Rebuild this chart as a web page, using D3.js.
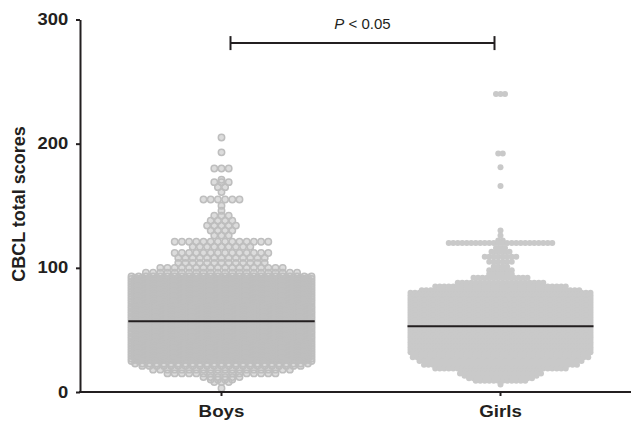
<!DOCTYPE html>
<html>
<head>
<meta charset="utf-8">
<script src="https://cdn.jsdelivr.net/npm/d3@7"></script>
<style>
  body { margin: 0; background: #fff; }
  text { font-family: "Liberation Sans", Arial, sans-serif; fill: #231f20; }
</style>
</head>
<body>
<div id="chart"></div>
<script>
// categories and summary values
const categories = ['Boys', 'Girls'];
const medians = [57, 53];
const yTicks = [0, 100, 200, 300];

// each score row of the swarm and how many dots sit in it
const boysScores = [205, 193, 180, 171, 169, 165, 161, 155, 150, 146, 142, 138, 134, 130, 126,
    121, 117, 112, 108, 104, 100, 96, 93,
    92, 91, 90, 89, 88, 87, 86, 85, 84, 83, 82, 81, 80, 79, 78, 77, 76, 75, 74, 73, 72, 71,
    70, 69, 68, 67, 66, 65, 64, 63, 62, 61, 60, 59, 58, 57, 56, 55, 54, 53, 52, 51, 50, 49,
    48, 47, 46, 45, 44, 43, 42, 41, 40, 39, 38, 37, 36, 35, 34, 33, 32, 31, 30, 29, 28, 27, 26, 25,
    23, 21, 18, 15, 12, 10, 8, 3];
const boysCounts = [1, 1, 3, 1, 3, 2, 1, 6, 1, 1, 3, 4, 5, 4, 3,
    14, 9, 14, 13, 13, 18, 22, 26,
    25, 26, 25, 26, 25, 26, 25, 26, 25, 26, 25, 26, 25, 26, 25, 26, 25, 26, 25, 26, 25, 26,
    25, 26, 25, 26, 25, 26, 25, 26, 25, 26, 25, 26, 25, 26, 25, 26, 25, 26, 25, 26, 25, 26,
    25, 26, 25, 26, 25, 26, 25, 26, 25, 26, 25, 26, 25, 26, 25, 26, 25, 26, 25, 26, 25, 26, 25, 26,
    25, 23, 20, 16, 6, 4, 3, 1];

const girlsScores = [240, 192, 181, 166, 130, 126, 122, 120, 116, 113, 109, 105, 101, 98, 95,
    92, 88, 85, 82,
    80, 79, 78, 77, 76, 75, 74, 73, 72, 71, 70, 69, 68, 67, 66, 65, 64, 63, 62, 61, 60, 59, 58, 57, 56,
    55, 54, 53, 52, 51, 50, 49, 48, 47, 46, 45, 44, 43, 42, 41, 40, 39, 38, 37, 36, 35, 34, 33, 32, 31,
    28, 25, 22, 19, 17, 15, 13, 11, 9, 6];
const girlsCounts = [3, 2, 1, 1, 1, 1, 2, 24, 3, 5, 8, 6, 4, 6, 6,
    13, 20, 30, 36,
    41, 40, 41, 40, 41, 40, 41, 40, 41, 40, 41, 40, 41, 40, 41, 40, 41, 40, 41, 40, 41, 40, 41, 40, 41,
    40, 41, 40, 41, 40, 41, 40, 41, 40, 41, 40, 41, 40, 41, 40, 41, 40, 41, 40, 41, 40, 41, 40, 41, 40,
    40, 37, 35, 30, 18, 19, 17, 15, 12, 1];

const W = 638, H = 422;

const svg = d3.select('#chart').append('svg')
    .attr('width', W)
    .attr('height', H);

const y = d3.scaleLinear().domain([0, 300]).range([392, 19.5]);
const x = d3.scalePoint().domain(categories).range([82, 640]).padding(0.5);

const groups = [
    { name: 'Boys', scores: boysScores, counts: boysCounts, step: 7.2, r: 3.2, fill: '#dcdcdc', stroke: '#bebebe', sw: 1.5 },
    { name: 'Girls', scores: girlsScores, counts: girlsCounts, step: 4.5, r: 3, fill: '#c9c9c9', stroke: 'none', sw: 0 }
];

groups.forEach((g, gi) => {
    const cx = x(g.name);
    const dots = [];
    g.scores.forEach((s, k) => {
        const n = g.counts[k];
        for (let i = 0; i < n; i++) {
            dots.push({ x: cx + (i - (n - 1) / 2) * g.step, y: y(s) });
        }
    });
    // fills first, then the rings on top so dense areas read as solid
    svg.append('g')
        .selectAll('circle')
        .data(dots)
        .join('circle')
        .attr('cx', d => d.x)
        .attr('cy', d => d.y)
        .attr('r', g.r)
        .attr('fill', g.fill);
    if (g.stroke !== 'none') {
        svg.append('g')
            .selectAll('circle')
            .data(dots)
            .join('circle')
            .attr('cx', d => d.x)
            .attr('cy', d => d.y)
            .attr('r', g.r)
            .attr('fill', 'none')
            .attr('stroke', g.stroke)
            .attr('stroke-width', g.sw);
    }

    // median line spans the widest row
    const half = (d3.max(g.counts) - 1) / 2 * g.step + g.r;
    svg.append('line')
        .attr('x1', cx - half)
        .attr('x2', cx + half)
        .attr('y1', y(medians[gi]))
        .attr('y2', y(medians[gi]))
        .attr('stroke', '#231f20')
        .attr('stroke-width', 2);
});

// y axis
const yAxis = svg.append('g')
    .attr('transform', 'translate(80,0)')
    .call(d3.axisLeft(y).tickValues(yTicks).tickSize(4).tickSizeOuter(0));
yAxis.select('.domain').attr('stroke', '#231f20').attr('stroke-width', 2);
yAxis.selectAll('.tick line').attr('stroke', '#231f20').attr('stroke-width', 2);
yAxis.selectAll('.tick text')
    .attr('x', -10.3)
    .attr('transform', 'scale(1.15,1)')
    .style('font-size', '16px')
    .style('font-weight', 'bold')
    .style('font-family', '"Liberation Sans", Arial, sans-serif')
    .attr('fill', '#231f20');

// x axis
svg.append('line')
    .attr('x1', 79).attr('x2', 631)
    .attr('y1', y(0)).attr('y2', y(0))
    .attr('stroke', '#231f20').attr('stroke-width', 2);
svg.selectAll('.xtick')
    .data(categories)
    .join('line')
    .attr('class', 'xtick')
    .attr('x1', d => x(d)).attr('x2', d => x(d))
    .attr('y1', y(0)).attr('y2', y(0) + 4)
    .attr('stroke', '#231f20').attr('stroke-width', 2);
svg.selectAll('.xlab')
    .data(categories)
    .join('text')
    .attr('class', 'xlab')
    .attr('transform', d => `translate(${x(d)},416.5) scale(1.17,1)`)
    .attr('text-anchor', 'middle')
    .style('font-size', '16px')
    .style('font-weight', 'bold')
    .text(d => d);

// y label
svg.append('text')
    .attr('transform', 'translate(25,204) rotate(-90)')
    .attr('text-anchor', 'middle')
    .style('font-size', '18px')
    .style('font-weight', 'bold')
    .text('CBCL total scores');

// significance bracket
const by = y(281);
const bx1 = x('Boys') + 9, bx2 = x('Girls') - 6;
const br = svg.append('g').attr('stroke', '#231f20').attr('stroke-width', 2);
br.append('line').attr('x1', bx1).attr('x2', bx2).attr('y1', by).attr('y2', by);
br.append('line').attr('x1', bx1).attr('x2', bx1).attr('y1', by - 7).attr('y2', by + 7);
br.append('line').attr('x1', bx2).attr('x2', bx2).attr('y1', by - 7).attr('y2', by + 7);

const pt = svg.append('text')
    .attr('x', (bx1 + bx2) / 2)
    .attr('y', 28.5)
    .attr('text-anchor', 'middle')
    .style('font-size', '15px');
pt.append('tspan').style('font-style', 'italic').text('P');
pt.append('tspan').text(' < 0.05');
</script>
</body>
</html>
